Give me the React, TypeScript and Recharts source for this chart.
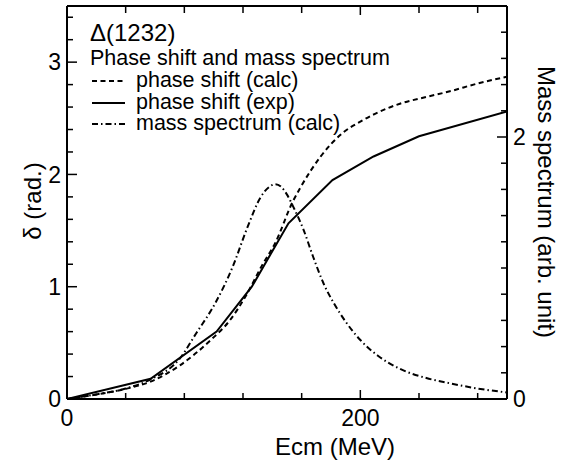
import React from 'react';
import { ComposedChart, Line, XAxis, YAxis } from 'recharts';

// ---- data ----
const EXP_E = [0, 57, 102, 126, 151, 181, 209, 240, 300];
const EXP_DELTA = [0, 0.18, 0.6, 1.0, 1.565, 1.95, 2.16, 2.34, 2.56];

const CALC_E = [0, 20, 40, 57, 77, 98, 111, 122, 133, 142, 154, 159, 166, 173, 188, 200, 210, 227, 245, 261, 280, 300];
const CALC_DELTA = [0, 0.04, 0.09, 0.155, 0.3, 0.525, 0.7, 0.92, 1.19, 1.39, 1.76, 1.88, 2.03, 2.16, 2.37, 2.47, 2.54, 2.63, 2.69, 2.74, 2.81, 2.87];

const MASS_E = [0, 20, 40, 57, 77, 88, 101, 113, 123, 132, 138, 142, 146, 150, 155, 161, 168, 175, 182, 190, 200, 212, 227, 245, 261, 280, 300];
const MASS_V = [0, 0.035, 0.08, 0.15, 0.31, 0.5, 0.73, 1.01, 1.31, 1.54, 1.62, 1.64, 1.62, 1.56, 1.45, 1.3, 1.08, 0.88, 0.73, 0.59, 0.45, 0.33, 0.23, 0.16, 0.12, 0.08, 0.05];

const X_TICKS = [0, 40, 80, 120, 160, 200, 240, 280];
const X_LABELS = [0, 200];
const LEFT_TICKS = [0, 0.2, 0.4, 0.6, 0.8, 1, 1.2, 1.4, 1.6, 1.8, 2, 2.2, 2.4, 2.6, 2.8, 3, 3.2, 3.4];
const LEFT_LABELS = [0, 1, 2, 3];
const RIGHT_TICKS = [0, 0.2, 0.4, 0.6, 0.8, 1, 1.2, 1.4, 1.6, 1.8, 2, 2.2, 2.4, 2.6, 2.8];
const RIGHT_LABELS = [0, 2];

const toPts = (xs: number[], ys: number[]) => xs.map((x, i) => ({ x, y: ys[i] }));
const expData = toPts(EXP_E, EXP_DELTA);
const calcData = toPts(CALC_E, CALC_DELTA);
const massData = toPts(MASS_E, MASS_V);

const FONT = '"Liberation Sans", Arial, Helvetica, sans-serif';
const TICK_FS = 23;
const DASH = '5 3.5';
const DASHDOT = '6 3 1.5 3';

const LeftTick = (p: any) => {
  const { x, y, payload } = p;
  const v = payload.value;
  const major = LEFT_LABELS.includes(v);
  return (
    <g>
      <line x1={x} y1={y} x2={x + (major ? 10 : 6)} y2={y} stroke="#000" strokeWidth={1.5} />
      {major && (
        <text x={x - 6} y={y} dy="0.36em" textAnchor="end" fontSize={TICK_FS} fontFamily={FONT} fill="#000">
          {v}
        </text>
      )}
    </g>
  );
};

const RightTick = (p: any) => {
  const { x, y, payload } = p;
  const v = payload.value;
  const major = RIGHT_LABELS.includes(v);
  return (
    <g>
      <line x1={x} y1={y} x2={x - (major ? 10 : 6)} y2={y} stroke="#000" strokeWidth={1.5} />
      {major && (
        <text x={x + 6} y={y} dy="0.36em" textAnchor="start" fontSize={TICK_FS} fontFamily={FONT} fill="#000">
          {v}
        </text>
      )}
    </g>
  );
};

const BottomTick = (p: any) => {
  const { x, y, payload } = p;
  const v = payload.value;
  const major = X_LABELS.includes(v);
  return (
    <g>
      <line x1={x} y1={y} x2={x} y2={y - (major ? 9 : 6)} stroke="#000" strokeWidth={1.5} />
      {major && (
        <text x={x} y={y + 27} textAnchor="middle" fontSize={TICK_FS} fontFamily={FONT} fill="#000">
          {v}
        </text>
      )}
    </g>
  );
};

const TopTick = (p: any) => {
  const { x, y, payload } = p;
  const v = payload.value;
  const major = X_LABELS.includes(v);
  return <line x1={x} y1={y} x2={x} y2={y + (major ? 9 : 7)} stroke="#000" strokeWidth={1.5} />;
};

const axisLine = { stroke: '#000', strokeWidth: 2 };

export default function App() {
  return (
    <div style={{ position: 'absolute', left: 0, top: 0, width: 571, height: 462, background: '#fff', fontFamily: FONT }}>
      <ComposedChart width={571} height={462} margin={{ top: 0, right: 0, bottom: 0, left: 0 }}>
        <XAxis
          xAxisId="b"
          type="number"
          dataKey="x"
          domain={[0, 300]}
          ticks={X_TICKS}
          height={63}
          orientation="bottom"
          tickSize={0}
          tickMargin={0}
          tickLine={false}
          axisLine={axisLine}
          tick={BottomTick}
          interval={0}
          allowDataOverflow
        />
        <XAxis
          xAxisId="t"
          type="number"
          dataKey="x"
          domain={[0, 300]}
          ticks={X_TICKS}
          height={6}
          orientation="top"
          tickSize={0}
          tickMargin={0}
          tickLine={false}
          axisLine={axisLine}
          tick={TopTick}
          interval={0}
          allowDataOverflow
        />
        <YAxis
          yAxisId="l"
          type="number"
          domain={[0, 3.5]}
          ticks={LEFT_TICKS}
          width={67}
          orientation="left"
          tickSize={0}
          tickMargin={0}
          tickLine={false}
          axisLine={axisLine}
          tick={LeftTick}
          interval={0}
          allowDataOverflow
        />
        <YAxis
          yAxisId="r"
          type="number"
          domain={[0, 3]}
          ticks={RIGHT_TICKS}
          width={64}
          orientation="right"
          tickSize={0}
          tickMargin={0}
          tickLine={false}
          axisLine={axisLine}
          tick={RightTick}
          interval={0}
          allowDataOverflow
        />
        <Line
          xAxisId="b"
          yAxisId="l"
          data={calcData}
          dataKey="y"
          type="monotone"
          stroke="#000"
          strokeWidth={2}
          strokeDasharray={DASH}
          dot={false}
          activeDot={false}
          isAnimationActive={false}
        />
        <Line
          xAxisId="b"
          yAxisId="l"
          data={expData}
          dataKey="y"
          type="linear"
          stroke="#000"
          strokeWidth={2}
          dot={false}
          activeDot={false}
          isAnimationActive={false}
        />
        <Line
          xAxisId="b"
          yAxisId="r"
          data={massData}
          dataKey="y"
          type="monotone"
          stroke="#000"
          strokeWidth={2}
          strokeDasharray={DASHDOT}
          dot={false}
          activeDot={false}
          isAnimationActive={false}
        />
      </ComposedChart>
      <svg
        width={571}
        height={462}
        style={{ position: 'absolute', left: 0, top: 0, pointerEvents: 'none' }}
        fontFamily={FONT}
      >
        <text x={90} y={41} fontSize={24} fill="#000">Δ(1232)</text>
        <text x={90} y={65} fontSize={21.5} fill="#000">Phase shift and mass spectrum</text>
        <line x1={92} y1={81} x2={125} y2={81} stroke="#000" strokeWidth={2} strokeDasharray={DASH} />
        <text x={136} y={87} fontSize={21.5} fill="#000">phase shift (calc)</text>
        <line x1={92} y1={103} x2={125} y2={103} stroke="#000" strokeWidth={2} />
        <text x={136} y={109} fontSize={21.5} fill="#000">phase shift (exp)</text>
        <line x1={92} y1={124} x2={125} y2={124} stroke="#000" strokeWidth={2} strokeDasharray={DASHDOT} />
        <text x={136} y={130} fontSize={21.5} fill="#000">mass spectrum (calc)</text>

        <text x={0} y={0} fontSize={24} fill="#000" textAnchor="middle" transform="translate(41,201) rotate(-90)">
          δ (rad.)
        </text>
        <text x={0} y={0} fontSize={24} fill="#000" textAnchor="middle" transform="translate(538,202) rotate(90)">
          Mass spectrum (arb. unit)
        </text>
        <text x={335} y={455} fontSize={24} fill="#000" textAnchor="middle">
          Ecm (MeV)
        </text>
      </svg>
    </div>
  );
}
